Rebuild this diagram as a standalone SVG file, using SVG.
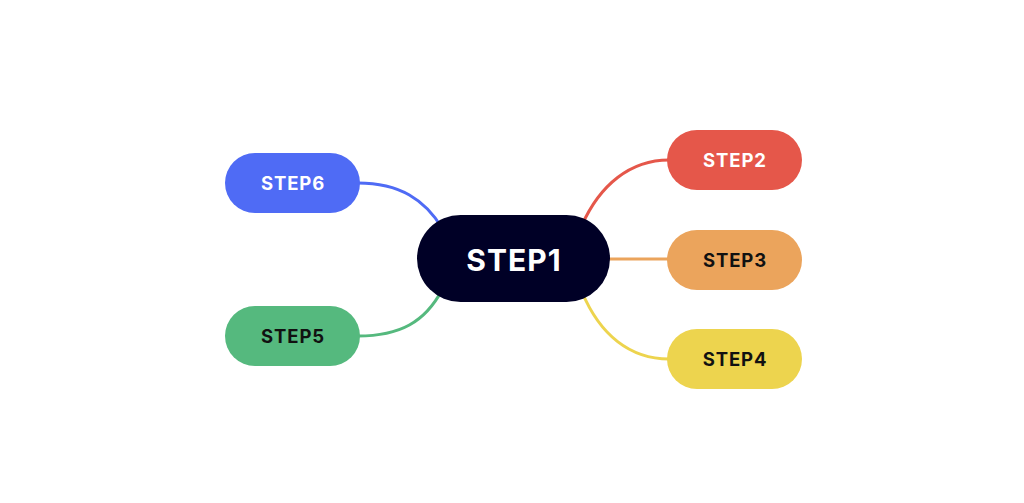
<svg xmlns="http://www.w3.org/2000/svg" width="1024" height="503" viewBox="0 0 1024 503">
<style>
.c{fill:none;stroke-width:3;stroke-linecap:round}
.t{font-family:Inter,"Open Sans","Liberation Sans",sans-serif;font-weight:700;text-anchor:middle;dominant-baseline:central}
.s{font-size:18.5px;letter-spacing:0.9px}
</style>
<rect width="1024" height="503" fill="#ffffff"/>
<g id="connectors">
<path class="c" stroke="#4F6BF5" d="M358,183 C400,183 425,200 442,228"/>
<path class="c" stroke="#E5574A" d="M669,160 C630,160 600,185 582,225"/>
<path class="c" stroke="#EBA45C" d="M605,259 L669,259"/>
<path class="c" stroke="#EDD44E" d="M669,359 C630,359 600,335 582,292"/>
<path class="c" stroke="#55B97E" d="M358,336 C400,336 425,322 442,290"/>
</g>
<g id="step1">
<rect x="417" y="215" width="193" height="87" rx="43.5" fill="#000026"/>
<text class="t" x="514" y="259.5" font-size="30" letter-spacing="1" fill="#ffffff">STEP1</text>
</g>
<g id="step2">
<rect x="667" y="130" width="135" height="60" rx="30" fill="#E5574A"/>
<text class="t s" x="735" y="160" fill="#ffffff">STEP2</text>
</g>
<g id="step3">
<rect x="667" y="230" width="135" height="60" rx="30" fill="#EBA45C"/>
<text class="t s" x="735" y="260" fill="#111111">STEP3</text>
</g>
<g id="step4">
<rect x="667" y="329" width="135" height="60" rx="30" fill="#EDD44E"/>
<text class="t s" x="735" y="359" fill="#111111">STEP4</text>
</g>
<g id="step5">
<rect x="225" y="306" width="135" height="60" rx="30" fill="#55B97E"/>
<text class="t s" x="293" y="336" fill="#111111">STEP5</text>
</g>
<g id="step6">
<rect x="225" y="153" width="135" height="60" rx="30" fill="#4F6BF5"/>
<text class="t s" x="293" y="183" fill="#ffffff">STEP6</text>
</g>
</svg>
